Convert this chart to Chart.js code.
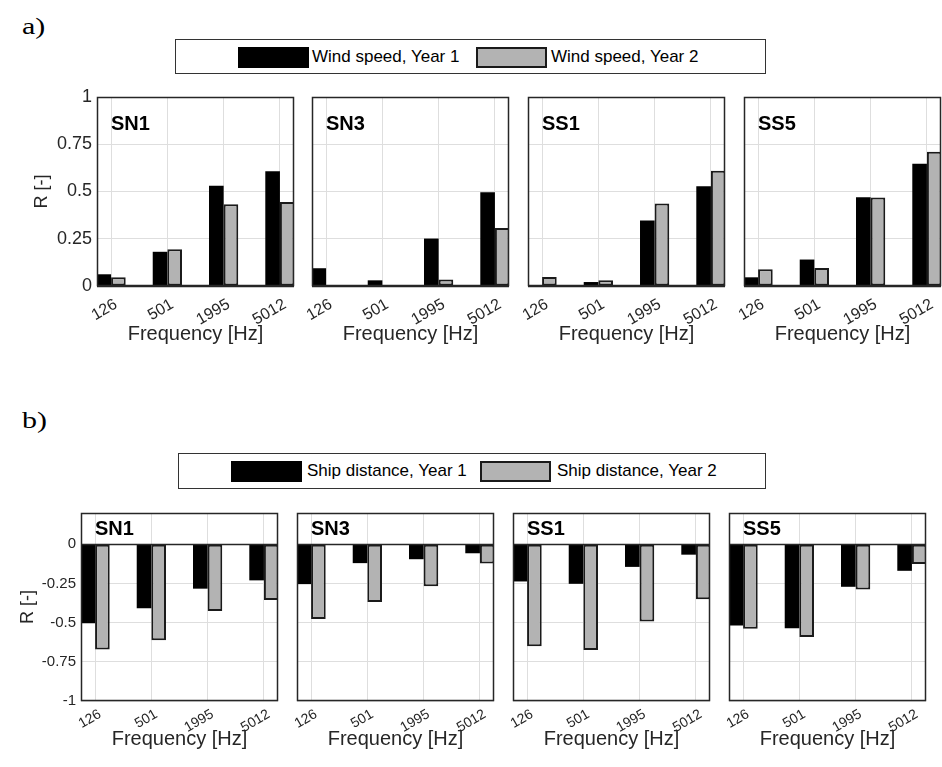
<!DOCTYPE html>
<html>
<head>
<meta charset="utf-8">
<script src="https://cdn.jsdelivr.net/npm/chart.js@4.4.1/dist/chart.umd.min.js"></script>
<style>
  body { margin:0; background:#fff; width:942px; height:767px; position:relative; overflow:hidden; font-family:"Liberation Sans", Arial, sans-serif; }
  canvas { position:absolute; }
  .tag { position:absolute; font-family:"Liberation Serif","Times New Roman",serif; font-size:24px; line-height:1; color:#000; transform:scaleX(1.25); transform-origin:left top; }
  .legend { position:absolute; border:1.5px solid #333; box-sizing:border-box; background:#fff; }
  .sw { position:absolute; box-sizing:border-box; width:71px; height:21px; }
  .sw.y1 { background:#000; }
  .sw.y2 { background:#b3b3b3; border:2px solid #1a1a1a; }
  .lt { position:absolute; font-size:17px; line-height:17px; color:#000; white-space:nowrap; }
</style>
</head>
<body>
<div class="tag" style="left:22px; top:14px;">a)</div>
<div class="legend" style="left:175px; top:39px; width:591px; height:35px;"></div>
<div class="sw y1" style="left:238px; top:47px;"></div>
<div class="lt" style="left:312px; top:48px;">Wind speed, Year 1</div>
<div class="sw y2" style="left:476px; top:47px;"></div>
<div class="lt" style="left:551px; top:48px;">Wind speed, Year 2</div>

<div class="tag" style="left:22px; top:408px;">b)</div>
<div class="legend" style="left:178px; top:453px; width:588px; height:36px;"></div>
<div class="sw y1" style="left:231px; top:461px;"></div>
<div class="lt" style="left:307px; top:462px;">Ship distance, Year 1</div>
<div class="sw y2" style="left:480px; top:461px;"></div>
<div class="lt" style="left:557px; top:462px;">Ship distance, Year 2</div>

<script>
// frequency bands and stations
const freqLabels = ['126', '501', '1995', '5012'];
const stationNames = ['SN1', 'SN3', 'SS1', 'SS5'];

// a) correlation with wind speed
const windYear1SN1 = [0.062, 0.181, 0.530, 0.607];
const windYear2SN1 = [0.046, 0.194, 0.433, 0.444];
const windYear1SN3 = [0.094, 0.030, 0.251, 0.496];
const windYear2SN3 = [0.004, 0.003, 0.035, 0.307];
const windYear1SS1 = [0.004, 0.021, 0.346, 0.528];
const windYear2SS1 = [0.048, 0.030, 0.436, 0.610];
const windYear1SS5 = [0.046, 0.140, 0.470, 0.647];
const windYear2SS5 = [0.088, 0.095, 0.468, 0.710];

// b) correlation with ship distance
const shipYear1SN1 = [-0.503, -0.408, -0.283, -0.230];
const shipYear2SN1 = [-0.672, -0.613, -0.425, -0.355];
const shipYear1SN3 = [-0.254, -0.120, -0.095, -0.057];
const shipYear2SN3 = [-0.476, -0.368, -0.268, -0.123];
const shipYear1SS1 = [-0.237, -0.252, -0.144, -0.066];
const shipYear2SS1 = [-0.651, -0.674, -0.493, -0.351];
const shipYear1SS5 = [-0.518, -0.535, -0.271, -0.169];
const shipYear2SS5 = [-0.539, -0.592, -0.288, -0.125];

// y ticks
const windTicks = [0, 0.25, 0.5, 0.75, 1];
const shipTicks = [-1, -0.75, -0.5, -0.25, 0];

const windYear1 = [windYear1SN1, windYear1SN3, windYear1SS1, windYear1SS5];
const windYear2 = [windYear2SN1, windYear2SN3, windYear2SS1, windYear2SS5];
const shipYear1 = [shipYear1SN1, shipYear1SN3, shipYear1SS1, shipYear1SS5];
const shipYear2 = [shipYear2SN1, shipYear2SN3, shipYear2SS1, shipYear2SS5];

Chart.defaults.font.family = '"Liberation Sans", Arial, sans-serif';
Chart.defaults.color = '#262626';

const LEFT = 80, RIGHT = 4, TOP = 20, PW = 197;

// box around plot, zero baseline, station name
const panelDeco = {
    id: 'panelDeco',
    afterDatasetsDraw(chart, args, opts) {
        const { ctx, chartArea: a } = chart;
        const y0 = Math.round(chart.scales.y.getPixelForValue(0)) + 0.5;
        ctx.save();
        ctx.strokeStyle = '#262626';
        ctx.lineWidth = 1.5;
        ctx.beginPath();
        ctx.moveTo(a.left, y0);
        ctx.lineTo(a.right, y0);
        ctx.stroke();
        ctx.strokeRect(a.left + 0.5, a.top + 0.5, a.width - 1, a.height - 1);
        ctx.fillStyle = '#000';
        ctx.font = 'bold 20px "Liberation Sans", Arial, sans-serif';
        ctx.textBaseline = 'alphabetic';
        ctx.fillText(opts.name, a.left + 14, a.top + opts.nameDy);
        ctx.restore();
    }
};

function makePanel(p) {
    const c = document.createElement('canvas');
    const H = TOP + p.plotH + p.axisH + 2;
    c.width = LEFT + PW + RIGHT;
    c.height = H;
    c.style.left = (p.plotLeft - LEFT) + 'px';
    c.style.top = (p.plotTop - TOP) + 'px';
    document.body.appendChild(c);

    new Chart(c, {
        type: 'bar',
        data: {
            datasets: [{
                label: p.label1,
                data: p.v1.map((v, i) => ({ x: i, y: v })),
                backgroundColor: '#000',
                borderColor: '#000',
                borderWidth: 0,
                categoryPercentage: 0.52,
                barPercentage: 1.0
            }, {
                label: p.label2,
                data: p.v2.map((v, i) => ({ x: i, y: v })),
                backgroundColor: '#b3b3b3',
                borderColor: '#1a1a1a',
                borderWidth: 2,
                borderSkipped: false,
                categoryPercentage: 0.52,
                barPercentage: 1.0
            }]
        },
        options: {
            responsive: false,
            animation: false,
            layout: { padding: { left: 0, right: RIGHT, top: TOP, bottom: 2 } },
            plugins: {
                legend: { display: false },
                tooltip: { enabled: false },
                panelDeco: { name: p.name, nameDy: p.nameDy }
            },
            scales: {
                x: {
                    type: 'linear',
                    offset: false,
                    min: -0.25,
                    max: 3.25,
                    afterBuildTicks: s => { s.ticks = freqLabels.map((_, i) => ({ value: i })); },
                    afterFit: s => { s.height = p.axisH; s.paddingLeft = 0; s.paddingRight = 0; },
                    grid: { color: '#dedede', drawTicks: false, offset: false },
                    border: { display: false },
                    ticks: {
                        autoSkip: false,
                        minRotation: 30,
                        maxRotation: 30,
                        padding: p.xTickPad,
                        labelOffset: 5,
                        font: { size: p.xTickSize },
                        callback: v => freqLabels[v]
                    },
                    title: {
                        display: true,
                        text: 'Frequency [Hz]',
                        font: { size: 20 },
                        padding: { top: 0, bottom: 0 }
                    }
                },
                y: {
                    min: p.yMin,
                    max: p.yMax,
                    afterBuildTicks: s => { s.ticks = p.yTicks.map(v => ({ value: v })); },
                    afterFit: s => { s.width = LEFT; s.paddingTop = 0; s.paddingBottom = 0; },
                    grid: { color: '#dedede', drawTicks: false },
                    border: { display: false },
                    ticks: {
                        display: p.col === 0,
                        padding: 5,
                        font: { size: p.yTickSize },
                        callback: v => String(v)
                    },
                    title: {
                        display: p.col === 0,
                        text: 'R [-]',
                        font: { size: 18 },
                        padding: { top: p.yTitlePad, bottom: 0 }
                    }
                }
            }
        },
        plugins: [panelDeco]
    });
}

const topLefts = [97, 312, 528, 744];
const bottomLefts = [81, 297, 513, 729];

stationNames.forEach((name, i) => {
    makePanel({
        col: i, name: name, nameDy: 33,
        plotLeft: topLefts[i], plotTop: 97, plotH: 189, axisH: 60,
        v1: windYear1[i], v2: windYear2[i],
        label1: 'Wind speed, Year 1', label2: 'Wind speed, Year 2',
        yMin: 0, yMax: 1, yTicks: windTicks,
        yTickSize: 18, xTickSize: 16, xTickPad: 9, yTitlePad: 14
    });
    makePanel({
        col: i, name: name, nameDy: 22,
        plotLeft: bottomLefts[i], plotTop: 513, plotH: 188, axisH: 50,
        v1: shipYear1[i], v2: shipYear2[i],
        label1: 'Ship distance, Year 1', label2: 'Ship distance, Year 2',
        yMin: -1, yMax: 0.2, yTicks: shipTicks,
        yTickSize: 15, xTickSize: 14, xTickPad: 5, yTitlePad: 16
    });
});
</script>
</body>
</html>
